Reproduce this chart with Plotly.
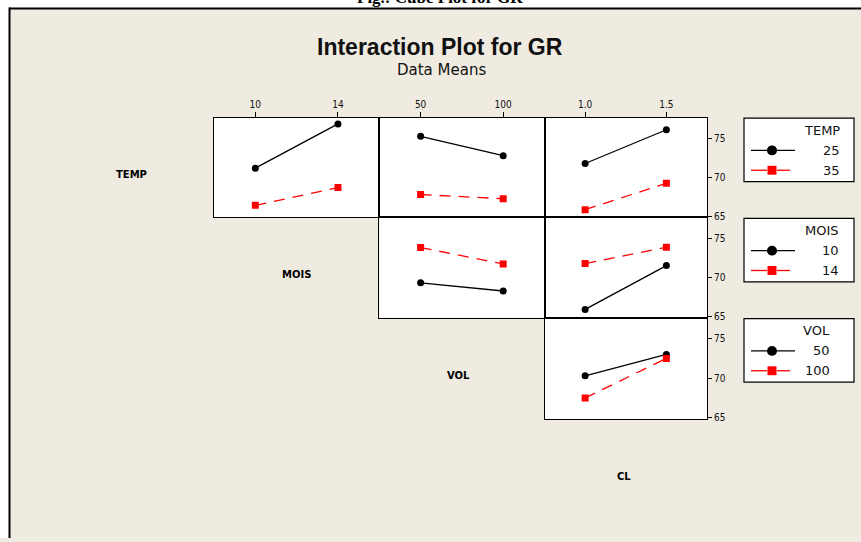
import plotly.graph_objects as go

W, H = 861, 542

# ---------------- data ----------------
mois_levels = [10, 14]
vol_levels = [50, 100]
cl_levels = [1.0, 1.5]
mois_ticktext = ["10", "14"]
vol_ticktext = ["50", "100"]
cl_ticktext = ["1.0", "1.5"]
y_ticks = [65, 70, 75]

# row TEMP (25 = black, 35 = red)
temp_mois_25 = [71.2, 76.9]
temp_mois_35 = [66.4, 68.7]
temp_vol_25 = [75.3, 72.8]
temp_vol_35 = [67.8, 67.25]
temp_cl_25 = [71.8, 76.15]
temp_cl_35 = [65.85, 69.25]
# row MOIS (10 = black, 14 = red)
mois_vol_10 = [69.3, 68.25]
mois_vol_14 = [73.8, 71.7]
mois_cl_10 = [65.9, 71.5]
mois_cl_14 = [71.75, 73.85]
# row VOL (50 = black, 100 = red)
vol_cl_50 = [70.3, 73.0]
vol_cl_100 = [67.5, 72.5]

legend_titles = ["TEMP", "MOIS", "VOL"]
legend_levels = [["25", "35"], ["10", "14"], ["50", "100"]]
diag_labels = ["TEMP", "MOIS", "VOL", "CL"]

# ---------------- layout helpers ----------------
def px(x):
    return x / W

def py(y):
    return 1 - y / H

col_px = [(214, 379.3), (379.3, 544.5), (544.5, 707)]
row_px = [(119, 219), (219, 320), (320, 422)]
col_x = [mois_levels, vol_levels, cl_levels]
col_range = [[8, 16], [25, 125], [0.75, 1.75]]
col_ticktext = [mois_ticktext, vol_ticktext, cl_ticktext]
y_range = [64.85, 77.65]

panels = [
    (0, 0, temp_mois_25, temp_mois_35),
    (0, 1, temp_vol_25, temp_vol_35),
    (0, 2, temp_cl_25, temp_cl_35),
    (1, 1, mois_vol_10, mois_vol_14),
    (1, 2, mois_cl_10, mois_cl_14),
    (2, 2, vol_cl_50, vol_cl_100),
]

TICKFONT = dict(family="DejaVu Sans Condensed, Liberation Sans Narrow, DejaVu Sans, sans-serif",
                size=10, color="#111111")
BEIGE = "#EFEBE1"

fig = go.Figure()
layout = {}
for i, (r, c, low, high) in enumerate(panels, start=1):
    sfx = "" if i == 1 else str(i)
    xa, ya = "x" + sfx, "y" + sfx
    fig.add_trace(go.Scatter(
        x=col_x[c], y=low, xaxis=xa, yaxis=ya, mode="lines+markers",
        line=dict(color="black", width=1.3),
        marker=dict(symbol="circle", size=7, color="black"),
        hoverinfo="skip"))
    fig.add_trace(go.Scatter(
        x=col_x[c], y=high, xaxis=xa, yaxis=ya, mode="lines+markers",
        line=dict(color="#FF0000", width=1.3, dash="11px,8px"),
        marker=dict(symbol="square", size=7, color="#FF0000"),
        hoverinfo="skip"))
    x0, x1 = col_px[c]
    y0, y1 = row_px[r]
    top = (r == 0)
    right = (c == 2)
    layout["xaxis" + sfx] = dict(
        domain=[px(x0), px(x1)], range=col_range[c], anchor=ya,
        side="top", showgrid=False, zeroline=False,
        showline=True, mirror=True, linecolor="black", linewidth=1,
        tickvals=col_x[c] if top else [], ticktext=col_ticktext[c] if top else [],
        ticks="outside" if top else "", ticklen=5, tickcolor="black", tickwidth=1,
        showticklabels=top, tickfont=TICKFONT, fixedrange=True)
    layout["yaxis" + sfx] = dict(
        domain=[py(y1), py(y0)], range=y_range, anchor=xa,
        side="right", showgrid=False, zeroline=False,
        showline=True, mirror=True, linecolor="black", linewidth=1,
        tickvals=y_ticks if right else [],
        ticks="outside" if right else "", ticklen=4, tickcolor="black", tickwidth=1,
        showticklabels=right, tickfont=TICKFONT, fixedrange=True)

shapes = []
annotations = []

# white strips outside the beige frame, and the frame lines
shapes.append(dict(type="rect", xref="paper", yref="paper",
                   x0=0, x1=1, y0=py(8), y1=1,
                   fillcolor="white", line=dict(width=0), layer="below"))
shapes.append(dict(type="rect", xref="paper", yref="paper",
                   x0=0, x1=px(9), y0=0, y1=1,
                   fillcolor="white", line=dict(width=0), layer="below"))
shapes.append(dict(type="line", xref="paper", yref="paper",
                   x0=px(9), x1=1, y0=py(8.5), y1=py(8.5),
                   line=dict(color="black", width=2)))
shapes.append(dict(type="line", xref="paper", yref="paper",
                   x0=px(9.5), x1=px(9.5), y0=0, y1=py(7.5),
                   line=dict(color="black", width=2)))

# legends
leg_top = [119, 220, 321]
leg_right_text = [842, 841, 832]
LEGFONT = dict(family="DejaVu Sans, sans-serif", size=13, color="#111111")
for k in range(3):
    t = leg_top[k]
    shapes.append(dict(type="rect", xref="paper", yref="paper",
                       x0=px(744), x1=px(854), y0=py(t + 64), y1=py(t),
                       fillcolor="white", line=dict(color="black", width=1.2), layer="below"))
    annotations.append(dict(text=legend_titles[k], x=px(leg_right_text[k]), y=py(t + 12),
                            xref="paper", yref="paper", xanchor="right", yanchor="middle",
                            showarrow=False, font=LEGFONT))
    for j in range(2):
        ey = t + 32.5 + j * 20
        annotations.append(dict(text=legend_levels[k][j], x=px(leg_right_text[k]), y=py(ey),
                                xref="paper", yref="paper", xanchor="right", yanchor="middle",
                                showarrow=False, font=LEGFONT))
        if j == 0:
            shapes.append(dict(type="line", xref="paper", yref="paper",
                               x0=px(751), x1=px(795), y0=py(ey), y1=py(ey),
                               line=dict(color="black", width=1.3)))
            shapes.append(dict(type="circle", xref="paper", yref="paper",
                               x0=px(767), x1=px(777), y0=py(ey + 5), y1=py(ey - 5),
                               fillcolor="black", line=dict(color="black", width=0)))
        else:
            shapes.append(dict(type="line", xref="paper", yref="paper",
                               x0=px(751), x1=px(767), y0=py(ey), y1=py(ey),
                               line=dict(color="#FF0000", width=1.3)))
            shapes.append(dict(type="line", xref="paper", yref="paper",
                               x0=px(777), x1=px(790), y0=py(ey), y1=py(ey),
                               line=dict(color="#FF0000", width=1.3)))
            shapes.append(dict(type="rect", xref="paper", yref="paper",
                               x0=px(767.5), x1=px(776.5), y0=py(ey + 4.5), y1=py(ey - 4.5),
                               fillcolor="#FF0000", line=dict(color="#FF0000", width=0)))

# diagonal factor labels
diag_pos = [(131, 176), (296, 277), (459, 378), (624, 480)]
for lab, (x, y) in zip(diag_labels, diag_pos):
    annotations.append(dict(text="<b>" + lab + "</b>", x=px(x), y=py(y), xref="paper", yref="paper",
                            xanchor="center", yanchor="middle", showarrow=False,
                            font=dict(family="DejaVu Sans, sans-serif", size=10, color="black")))

# titles
annotations.append(dict(text="<b>Interaction Plot for GR</b>", x=px(440), y=py(47),
                        xref="paper", yref="paper", xanchor="center", yanchor="middle",
                        showarrow=False,
                        font=dict(family="Liberation Sans, Arial, sans-serif", size=23, color="#111111")))
annotations.append(dict(text="Data Means", x=px(441), y=py(71),
                        xref="paper", yref="paper", xanchor="center", yanchor="middle",
                        showarrow=False,
                        font=dict(family="DejaVu Sans, sans-serif", size=15, color="#111111")))
# caption, cut off at the top of the page as in the reference
annotations.append(dict(text="<b>Fig.: Cube Plot for GR</b>", x=px(440), y=py(9.5),
                        xref="paper", yref="paper", xanchor="center", yanchor="bottom",
                        showarrow=False,
                        font=dict(family="Liberation Serif, Times New Roman, serif", size=17, color="black")))

fig.update_layout(width=W, height=H, autosize=False,
                  margin=dict(l=0, r=0, t=0, b=0, pad=0),
                  paper_bgcolor=BEIGE, plot_bgcolor="white",
                  showlegend=False, shapes=shapes, annotations=annotations, **layout)

fig.write_html("out.html", config={"displayModeBar": False, "staticPlot": True},
               post_script="document.body.style.margin='0';document.body.style.overflow='hidden';")
